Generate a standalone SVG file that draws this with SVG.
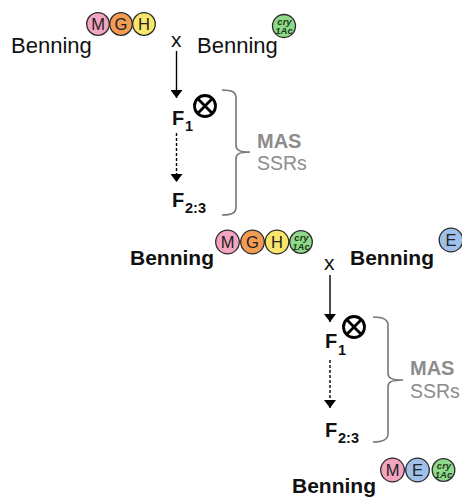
<svg xmlns="http://www.w3.org/2000/svg" width="462" height="499" viewBox="0 0 462 499">
<defs>
<marker id="ah" viewBox="0 0 8 12" refX="8" refY="6" markerWidth="8" markerHeight="12" markerUnits="userSpaceOnUse" orient="auto">
<path d="M0,0 L8,6 L0,12 Z" fill="#000"/>
</marker>
<style>
text{font-family:"Liberation Sans",Arial,sans-serif;}
.reg{font-size:22px;fill:#111;}
.bold{font-size:21px;font-weight:bold;fill:#111;}
.x{font-size:21px;fill:#111;}
.F{font-size:20px;font-weight:bold;fill:#111;}
.sub{font-size:14.5px;font-weight:bold;fill:#111;}
.mas{font-size:20px;font-weight:bold;fill:#8c8c8c;}
.ssr{font-size:19.5px;fill:#8c8c8c;}
.gl{font-size:16.5px;fill:#222;text-anchor:middle;}
.cry{font-size:9.5px;font-weight:bold;font-style:italic;fill:#1f3d1f;text-anchor:middle;}
.c{stroke:#2a2a2a;stroke-width:1.3;}
.M{fill:#f3a4c0;}.G{fill:#f29b52;}.H{fill:#f9e66b;}.Cr{fill:#8fd98a;}.E{fill:#9fc0ea;}
.line{stroke:#000;stroke-width:1.4;fill:none;}
.dash{stroke:#000;stroke-width:1.4;fill:none;stroke-dasharray:3,2;}
.br{stroke:#777;stroke-width:1.6;fill:none;}
.self{fill:none;stroke:#000;stroke-width:2.8;}
</style>
</defs>

<g id="parent1">
<text class="reg" x="11" y="53">Benning</text>
<circle class="c M" cx="98" cy="24" r="11.3"/><text class="gl" x="98" y="30">M</text>
<circle class="c G" cx="121" cy="24" r="11.3"/><text class="gl" x="121" y="30">G</text>
<circle class="c H" cx="144" cy="24" r="11.3"/><text class="gl" x="144" y="30">H</text>
</g>
<text id="cross1" class="x" x="171" y="47">x</text>
<g id="parent2">
<text class="reg" x="197" y="53">Benning</text>
<circle class="c Cr" cx="284" cy="26" r="11.5"/>
<text class="cry" x="284.5" y="24.5">cry</text><text class="cry" x="284" y="34">1Ac</text>
</g>

<g id="F1a">
<text class="F" x="172" y="125">F</text><text class="sub" x="185" y="131">1</text>
<circle class="self" cx="205" cy="106" r="10.5"/>
<path class="self" d="M197.6,98.6 L212.4,113.4 M212.4,98.6 L197.6,113.4"/>
</g>
<g id="F23a">
<text class="F" x="172" y="207">F</text><text class="sub" x="185" y="213">2:3</text>
</g>
<g id="note1">
<text class="mas" x="257" y="148">MAS</text>
<text class="ssr" x="257" y="170">SSRs</text>
</g>

<g id="parent3">
<text class="bold" x="130" y="265">Benning</text>
<circle class="c M" cx="227.5" cy="242" r="11.8"/><text class="gl" x="227.5" y="248">M</text>
<circle class="c G" cx="252.5" cy="242" r="11.8"/><text class="gl" x="252.5" y="248">G</text>
<circle class="c H" cx="277" cy="242" r="11.8"/><text class="gl" x="277" y="248">H</text>
<circle class="c Cr" cx="301" cy="242" r="11.3"/>
<text class="cry" x="301.5" y="240.5">cry</text><text class="cry" x="301" y="250">1Ac</text>
</g>
<text id="cross2" class="x" x="324" y="270">x</text>
<g id="parent4">
<text class="bold" x="350" y="265">Benning</text>
<circle class="c E" cx="451" cy="240" r="11.8"/><text class="gl" x="451" y="246">E</text>
</g>

<g id="F1b">
<text class="F" x="325" y="348">F</text><text class="sub" x="338" y="355">1</text>
<circle class="self" cx="354" cy="327" r="10.5"/>
<path class="self" d="M346.6,319.6 L361.4,334.4 M361.4,319.6 L346.6,334.4"/>
</g>
<g id="F23b">
<text class="F" x="325" y="437">F</text><text class="sub" x="338" y="443">2:3</text>
</g>
<g id="note2">
<text class="mas" x="410" y="375">MAS</text>
<text class="ssr" x="410" y="398">SSRs</text>
</g>

<g id="result">
<text class="bold" x="292" y="493">Benning</text>
<circle class="c M" cx="392.5" cy="470" r="11.8"/><text class="gl" x="392.5" y="476">M</text>
<circle class="c E" cx="417.5" cy="470" r="11.8"/><text class="gl" x="417.5" y="476">E</text>
<circle class="c Cr" cx="443.5" cy="470" r="11.3"/>
<text class="cry" x="444" y="468.5">cry</text><text class="cry" x="443.5" y="478">1Ac</text>
</g>

<g id="connectors">
<line class="line" x1="176.5" y1="51" x2="176.5" y2="98" marker-end="url(#ah)"/>
<line class="dash" x1="176.5" y1="133" x2="176.5" y2="182" marker-end="url(#ah)"/>
<path class="br" d="M222,90 C232,90 236,92 236,98 L236,145 C236,150 239,152 250,152 C239,152 236,154 236,159 L236,207 C236,213 232,215 222,215"/>
<line class="line" x1="330" y1="275" x2="330" y2="322" marker-end="url(#ah)"/>
<line class="dash" x1="330" y1="360" x2="330" y2="408" marker-end="url(#ah)"/>
<path class="br" d="M373,317 C383,317 388,319 388,325 L388,373 C388,378 391,380 403,380 C391,380 388,382 388,387 L388,434 C388,440 383,442 373,442"/>
</g>
</svg>
